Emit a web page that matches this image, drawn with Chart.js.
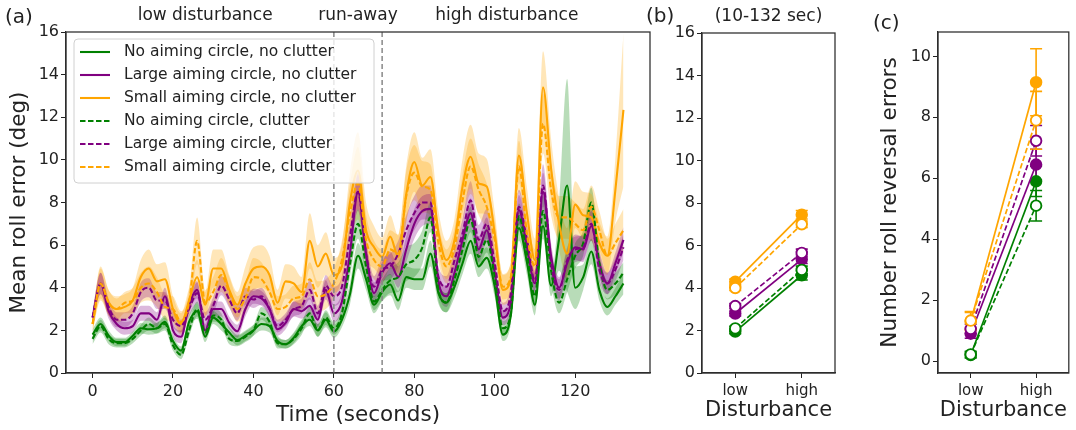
<!DOCTYPE html>
<html>
<head>
<meta charset="utf-8">
<script src="https://cdn.jsdelivr.net/npm/chart.js@4.4.1/dist/chart.umd.min.js"></script>
<style>
  html, body { margin: 0; padding: 0; background: #fff; }
  #wrap { position: relative; width: 1076px; height: 430px; overflow: hidden;
          font-family: "DejaVu Sans", sans-serif; color: #222; }
  .box { position: absolute; top: 0; height: 430px; }
  .tag { position: absolute; font-size: 20px; line-height: 24px; }
</style>
</head>
<body>
<div id="wrap">
  <div class="box" style="left:0;width:660px"><canvas id="timeChart" width="660" height="430"></canvas></div>
  <div class="box" style="left:660px;width:190px"><canvas id="meanChart" width="190" height="430"></canvas></div>
  <div class="box" style="left:850px;width:226px"><canvas id="revChart" width="226" height="430"></canvas></div>
  <div class="tag" style="left:5px;top:4px">(a)</div>
  <div class="tag" style="left:646px;top:3px">(b)</div>
  <div class="tag" style="left:873px;top:10px">(c)</div>
</div>

<script>
// ── PANEL A: TIME SERIES (2 s steps) ──────────────────
const time = [0,2,4,6,8,10,12,14,16,18, 20,22,24,26,28,30,32,34,36,38,
              40,42,44,46,48,50,52,54,56,58, 60,62,64,66,68,70,72,74,76,78,
              80,82,84,86,88,90,92,94,96,98, 100,102,104,106,108,110,112,114,116,118,
              120,122,124,126,128,130,132];

const noAimNoClut = [1.8,2.3,1.75,1.45,1.45,1.75,2.1,2.05,2.1,2.4, 1.5,1.05,2.4,2.9,1.7,2.6,2.3,1.9,1.55,1.75,
  2.0,2.3,2.2,1.5,1.35,1.65,2.2,2.5,2.0,2.5, 1.95,2.5,3.7,5.5,4.4,3.2,3.8,4.15,3.4,4.5,
  4.4,4.4,5.6,3.75,3.3,4.05,5.15,6.2,5.0,5.4, 4.05,1.8,2.7,6.8,5.2,3.2,6.9,4.1,6.3,8.8,
  4.0,4.5,5.7,3.9,3.1,3.6,4.2];
const largeNoClut = [2.6,4.2,2.9,2.3,2.1,2.2,2.8,2.8,2.5,3.6, 2.0,1.7,3.2,3.9,2.0,3.0,3.0,2.35,1.96,3.0,
  3.6,3.5,3.0,2.05,2.35,3.0,2.9,3.15,2.5,3.9, 2.8,3.35,5.6,8.5,5.6,3.75,4.7,5.15,4.5,5.8,
  7.0,7.6,7.7,4.3,3.6,4.7,6.25,7.5,5.8,6.7, 4.7,2.6,3.3,7.65,5.9,4.2,8.5,5.5,4.0,5.15,
  5.9,5.8,6.9,5.15,4.2,5.15,6.25];
const smallNoClut = [2.3,4.2,3.3,3.0,3.1,3.4,4.5,4.9,4.3,4.4, 3.0,2.3,3.4,4.5,3.2,4.9,4.9,3.9,3.2,4.2,
  4.9,5.0,4.6,3.3,4.3,4.2,3.8,6.2,5.0,5.6, 4.6,5.0,8.0,9.5,6.7,5.9,5.45,6.4,5.45,8.4,
  9.9,8.8,9.2,6.6,5.3,6.25,8.75,10.15,8.9,8.75, 6.55,3.9,4.4,10.2,7.5,5.3,13.4,9.6,7.0,5.6,
  7.9,7.4,7.3,6.1,5.5,8.6,12.35];
const noAimClut = [1.6,2.2,1.6,1.4,1.4,1.6,2.0,2.3,2.1,2.3, 1.3,0.85,2.0,3.0,1.9,2.7,2.5,1.6,1.5,1.7,
  2.0,2.8,2.4,1.4,1.35,1.6,2.1,2.8,2.0,2.6, 2.1,2.8,5.1,7.0,5.0,3.35,3.9,4.35,4.5,5.1,
  5.3,5.9,7.3,3.9,3.3,4.4,5.8,7.2,5.45,6.25, 4.5,2.1,2.8,7.35,5.6,3.6,7.6,4.8,3.3,4.4,
  5.5,6.1,8.0,5.15,3.9,4.2,4.7];
const largeClut = [2.6,4.2,3.1,2.5,2.5,2.8,3.8,4.0,3.4,3.4, 2.5,2.2,3.0,3.75,2.5,3.15,4.1,3.45,2.8,3.6,
  3.45,3.6,3.0,2.2,2.5,3.0,3.15,3.9,2.8,4.1, 3.6,4.05,6.4,8.5,5.6,4.05,4.85,5.0,5.6,6.7,
  7.5,8.0,8.0,4.5,4.05,5.3,6.55,8.1,6.25,7.0, 5.15,2.9,3.75,7.8,6.25,4.3,8.8,5.15,3.9,5.3,
  5.8,5.9,7.0,4.85,4.2,4.85,5.9];
const smallClut = [2.3,4.2,3.3,3.0,3.3,3.4,4.0,4.2,3.8,3.1, 3.0,2.4,3.3,6.2,3.3,3.8,4.6,3.8,3.0,3.5,
  4.5,4.4,3.8,3.0,3.1,3.5,3.6,4.4,3.6,3.7, 4.2,5.3,7.5,8.9,6.25,5.3,5.0,5.8,5.6,8.3,
  9.4,8.75,8.6,6.1,5.0,5.9,8.1,9.7,8.6,7.8, 6.25,4.05,4.5,9.7,6.55,5.0,11.7,8.6,7.3,7.3,
  7.0,6.7,7.8,6.7,5.5,6.1,6.7];

// half widths of the shaded bands
const noAimNoClutSe = [.25,.3,.25,.2,.2,.2,.25,.25,.25,.3, .25,.2,.3,.35,.25,.3,.3,.25,.25,.25,
  .25,.3,.3,.25,.2,.25,.3,.3,.3,.35, .3,.35,.5,.6,.5,.4,.45,.5,.45,.5,
  .5,.5,.6,.5,.45,.5,.5,.6,.5,.5, .5,.3,.4,.6,.6,.5,.6,.5,1.5,5.0,
  1.0,.6,.6,.5,.4,.4,.5];
const largeNoClutSe = [.3,.5,.35,.3,.3,.3,.35,.35,.35,.4, .3,.3,.35,.4,.3,.35,.35,.3,.3,.35,
  .35,.35,.35,.3,.3,.35,.35,.4,.35,.45, .4,.45,.6,.8,.6,.5,.5,.55,.5,.6,
  .7,.7,.7,.5,.5,.5,.6,.7,.6,.6, .5,.35,.4,.7,.6,.5,.9,.6,.5,.6,
  .6,.6,.7,.6,.5,.5,.6];
const smallNoClutSe = [.4,.8,.6,.6,.6,.6,.8,.9,.8,.8, .6,.5,.6,.8,.6,.9,.9,.7,.6,.8,
  1.0,1.0,.9,.6,.8,.8,.7,1.3,1.0,1.0, .8,1.0,1.4,1.8,1.3,1.0,.9,1.0,1.0,1.3,
  1.4,1.3,1.3,1.0,.9,1.0,1.3,1.5,1.4,1.3, 1.0,.7,.8,1.3,1.2,1.0,1.7,1.4,1.2,1.2,
  1.1,1.1,1.1,1.0,.9,1.5,3.6];
const noAimClutSe = [.25,.3,.25,.2,.2,.2,.25,.3,.25,.3, .25,.2,.3,.35,.25,.3,.3,.25,.25,.25,
  .25,.3,.3,.25,.2,.25,.3,.3,.3,.35, .3,.4,.6,.7,.6,.4,.5,.6,.7,.8,
  .8,.8,.7,.5,.45,.5,.6,.6,.5,.6, .5,.35,.4,.6,.6,.5,.7,.6,.5,.6,
  .6,.6,.7,.5,.45,.5,.5];
const largeClutSe = [.3,.5,.4,.35,.35,.35,.45,.45,.4,.4, .35,.3,.35,.5,.35,.4,.45,.4,.35,.4,
  .4,.4,.35,.3,.3,.35,.35,.45,.35,.5, .45,.5,.7,.9,.7,.5,.55,.6,.6,.7,
  .8,.8,.8,.5,.5,.55,.7,.9,.7,.7, .6,.4,.45,.8,.7,.5,1.0,.6,.5,.6,
  .6,.6,.8,.6,.5,.55,.6];
const smallClutSe = [.4,.7,.6,.5,.5,.6,.7,.8,.7,.6, .6,.5,.6,1.1,.6,.7,.8,.7,.6,.7,
  .9,.8,.7,.6,.6,.6,.6,.8,.7,.7, .7,.9,1.3,1.7,1.2,.9,.8,.9,.9,1.2,
  1.3,1.2,1.2,.9,.8,.9,1.2,1.3,1.2,1.1, .9,.6,.7,1.2,1.0,.8,1.4,1.2,1.0,1.0,
  1.0,1.0,1.0,.9,.8,.9,1.0];

const timeTicks   = [0, 20, 40, 60, 80, 100, 120];
const rollTicks   = [0, 2, 4, 6, 8, 10, 12, 14, 16];
const phaseLines  = [60, 72];
const phaseNames  = ["low disturbance", "run-away", "high disturbance"];
const phaseCentre = [28, 66, 103];

// ── PANEL B: MEAN ROLL ERROR (10-132 sec) ────────────
const levels = ["low", "high"];
const meanNoAimNoClut = [1.95, 4.6],  meanNoAimNoClutSe = [0.1, 0.22];
const meanLargeNoClut = [2.8, 5.35],  meanLargeNoClutSe = [0.12, 0.2];
const meanSmallNoClut = [4.3, 7.45],  meanSmallNoClutSe = [0.12, 0.2];
const meanNoAimClut   = [2.1, 4.85],  meanNoAimClutSe   = [0.1, 0.18];
const meanLargeClut   = [3.15, 5.65], meanLargeClutSe   = [0.12, 0.18];
const meanSmallClut   = [4.0, 7.0],   meanSmallClutSe   = [0.12, 0.15];

// ── PANEL C: ROLL REVERSAL ERRORS ────────────────────
const revNoAimNoClut = [0.2, 5.9],   revNoAimNoClutSe = [0.1, 0.5];
const revLargeNoClut = [0.9, 6.45],  revLargeNoClutSe = [0.15, 0.5];
const revSmallNoClut = [1.3, 9.15],  revSmallNoClutSe = [0.3, 1.1];
const revNoAimClut   = [0.22, 5.1],  revNoAimClutSe   = [0.1, 0.5];
const revLargeClut   = [1.06, 7.23], revLargeClutSe   = [0.15, 0.5];
const revSmallClut   = [1.33, 7.9],  revSmallClutSe   = [0.3, 0.95];
const revTicks = [0, 2, 4, 6, 8, 10];

// ── STYLE ────────────────────────────────────────────
const GREEN = "#008000", PURPLE = "#800080", ORANGE = "#ffa500", INK = "#222";
const DASH = [5.5, 2.5];
const labels = [
  "No aiming circle, no clutter", "Large aiming circle, no clutter", "Small aiming circle, no clutter",
  "No aiming circle, clutter", "Large aiming circle, clutter", "Small aiming circle, clutter",
];
const colors = [GREEN, PURPLE, ORANGE, GREEN, PURPLE, ORANGE];
const dashes = [[], [], [], DASH, DASH, DASH];

Chart.defaults.font.family = '"DejaVu Sans", sans-serif';
Chart.defaults.color = INK;
Chart.defaults.animation = false;

const fade = (hex, a) => {
  const n = parseInt(hex.slice(1), 16);
  return `rgba(${(n >> 16) & 255},${(n >> 8) & 255},${n & 255},${a})`;
};

function yAxis(min, max, ticks, width, title, pad) {
  return {
    type: "linear", min, max,
    afterFit: s => { s.width = width; },
    afterBuildTicks: s => { s.ticks = ticks.map(v => ({ value: v })); },
    grid: { drawOnChartArea: false, tickLength: 5, color: INK },
    border: { color: INK, width: 1.2 },
    ticks: { padding: 2, font: { size: 16 }, color: INK },
    title: title
      ? { display: true, text: title, font: { size: 21.5 }, color: INK, padding: { top: pad } }
      : { display: false },
  };
}

const framePlugin = {
  id: "frame",
  afterDraw(chart) {
    const { ctx, chartArea: a } = chart;
    ctx.save();
    ctx.strokeStyle = "#333";
    ctx.lineWidth = 1.3;
    ctx.strokeRect(a.left, a.top, a.right - a.left, a.bottom - a.top);
    ctx.restore();
  },
};

// ── CHART A ──────────────────────────────────────────
const means = [noAimNoClut, largeNoClut, smallNoClut, noAimClut, largeClut, smallClut];
const halves = [noAimNoClutSe, largeNoClutSe, smallNoClutSe, noAimClutSe, largeClutSe, smallClutSe];

const timeSets = [];
means.forEach((m, k) => {
  timeSets.push({
    label: labels[k],
    data: time.map((t, i) => ({ x: t, y: m[i] })),
    borderColor: colors[k], borderWidth: 2.1, borderDash: dashes[k],
    pointRadius: 0, fill: false, order: 6 - k, cubicInterpolationMode: "monotone",
  });
});
means.forEach((m, k) => {
  const up = timeSets.length;
  timeSets.push({
    label: "band", data: time.map((t, i) => ({ x: t, y: m[i] + halves[k][i] })),
    borderWidth: 0, borderColor: "transparent", pointRadius: 0,
    backgroundColor: fade(colors[k], 0.28), fill: up + 1, order: 20 + k,
    cubicInterpolationMode: "monotone",
  });
  timeSets.push({
    label: "band", data: time.map((t, i) => ({ x: t, y: m[i] - halves[k][i] })),
    borderWidth: 0, borderColor: "transparent", pointRadius: 0,
    fill: false, order: 20 + k, cubicInterpolationMode: "monotone",
  });
});

const phasePlugin = {
  id: "phases",
  afterDatasetsDraw(chart) {
    const { ctx, chartArea: a, scales: { x } } = chart;
    ctx.save();
    ctx.strokeStyle = "#888";
    ctx.lineWidth = 1.5;
    ctx.setLineDash([5, 3]);
    phaseLines.forEach(t => {
      const px = x.getPixelForValue(t);
      ctx.beginPath(); ctx.moveTo(px, a.top); ctx.lineTo(px, a.bottom); ctx.stroke();
    });
    ctx.setLineDash([]);
    ctx.fillStyle = INK;
    ctx.font = '17px "DejaVu Sans"';
    ctx.textAlign = "center";
    ctx.textBaseline = "middle";
    phaseNames.forEach((n, i) => ctx.fillText(n, x.getPixelForValue(phaseCentre[i]), 16));
    ctx.restore();
  },
};

const legendPlugin = {
  id: "boxLegend",
  afterDraw(chart) {
    const { ctx, chartArea: a } = chart;
    const x0 = a.left + 8, y0 = a.top + 7, w = 300, h = 144;
    ctx.save();
    ctx.beginPath();
    ctx.roundRect(x0, y0, w, h, 4);
    ctx.fillStyle = "rgba(255,255,255,0.8)";
    ctx.fill();
    ctx.strokeStyle = "#d0d0d0";
    ctx.lineWidth = 1;
    ctx.stroke();
    ctx.font = '15.5px "DejaVu Sans"';
    ctx.textBaseline = "middle";
    labels.forEach((lab, k) => {
      const y = y0 + 13 + k * 23;
      ctx.strokeStyle = colors[k];
      ctx.lineWidth = 2.1;
      ctx.setLineDash(dashes[k]);
      ctx.beginPath(); ctx.moveTo(x0 + 6, y); ctx.lineTo(x0 + 36, y); ctx.stroke();
      ctx.setLineDash([]);
      ctx.fillStyle = INK;
      ctx.fillText(lab, x0 + 50, y);
    });
    ctx.restore();
  },
};

new Chart(document.getElementById("timeChart"), {
  type: "line",
  data: { datasets: timeSets },
  options: {
    responsive: false,
    events: [],
    layout: { padding: { top: 32, right: 10, left: 0, bottom: 0 } },
    plugins: { legend: { display: false }, tooltip: { enabled: false } },
    scales: {
      x: {
        type: "linear", min: -6.6, max: 138.6,
        afterFit: s => { s.height = 57; },
        afterBuildTicks: s => { s.ticks = timeTicks.map(v => ({ value: v })); },
        grid: { drawOnChartArea: false, tickLength: 5, color: INK },
        border: { color: INK, width: 1.2 },
        ticks: { padding: 4, font: { size: 16 }, color: INK },
        title: { display: true, text: "Time (seconds)", font: { size: 21.5 }, color: INK, padding: { bottom: 2 } },
      },
      y: yAxis(0, 16, rollTicks, 66, "Mean roll error (deg)", 7),
    },
  },
  plugins: [phasePlugin, legendPlugin, framePlugin],
});

// ── CHARTS B & C ─────────────────────────────────────
const errorBarPlugin = {
  id: "errorBars",
  beforeDatasetsDraw(chart) {
    const { ctx, scales: { y } } = chart;
    ctx.save();
    ctx.lineWidth = 1.6;
    chart.data.datasets.forEach((ds, k) => {
      const meta = chart.getDatasetMeta(k);
      ctx.strokeStyle = ds.borderColor;
      meta.data.forEach((pt, i) => {
        const top = y.getPixelForValue(ds.data[i] + ds.errors[i]);
        const bot = y.getPixelForValue(ds.data[i] - ds.errors[i]);
        ctx.beginPath();
        ctx.moveTo(pt.x, top); ctx.lineTo(pt.x, bot);
        ctx.moveTo(pt.x - 6, top); ctx.lineTo(pt.x + 6, top);
        ctx.moveTo(pt.x - 6, bot); ctx.lineTo(pt.x + 6, bot);
        ctx.stroke();
      });
    });
    ctx.restore();
  },
};

function levelSets(vals, errs) {
  return vals.map((v, k) => ({
    label: labels[k], data: v, errors: errs[k],
    borderColor: colors[k], borderWidth: 1.7, borderDash: dashes[k],
    pointRadius: 5.3, pointBorderWidth: 1.9,
    pointBorderColor: colors[k],
    pointBackgroundColor: k < 3 ? colors[k] : "#fff",
    order: 6 - k,
  }));
}

function levelAxis() {
  return {
    type: "category", labels: levels, offset: true,
    afterFit: s => { s.height = 57; },
    grid: { drawOnChartArea: false, tickLength: 5, color: INK },
    border: { color: INK, width: 1.2 },
    ticks: { padding: 4, font: { size: 15 }, color: INK },
    title: { display: true, text: "Disturbance", font: { size: 21 }, color: INK, padding: { bottom: 7 } },
  };
}

new Chart(document.getElementById("meanChart"), {
  type: "line",
  data: {
    labels: levels,
    datasets: levelSets(
      [meanNoAimNoClut, meanLargeNoClut, meanSmallNoClut, meanNoAimClut, meanLargeClut, meanSmallClut],
      [meanNoAimNoClutSe, meanLargeNoClutSe, meanSmallNoClutSe, meanNoAimClutSe, meanLargeClutSe, meanSmallClutSe]),
  },
  options: {
    responsive: false,
    events: [],
    layout: { padding: { top: 0, right: 15, left: 0, bottom: 0 } },
    plugins: {
      legend: { display: false }, tooltip: { enabled: false },
      title: { display: true, fullSize: false, text: "(10-132 sec)", color: INK,
               font: { size: 17, weight: "normal" }, padding: { top: 6, bottom: 6.6 } },
    },
    scales: { x: levelAxis(), y: yAxis(0, 16, rollTicks, 42, null, 0) },
  },
  plugins: [errorBarPlugin, framePlugin],
});

new Chart(document.getElementById("revChart"), {
  type: "line",
  data: {
    labels: levels,
    datasets: levelSets(
      [revNoAimNoClut, revLargeNoClut, revSmallNoClut, revNoAimClut, revLargeClut, revSmallClut],
      [revNoAimNoClutSe, revLargeNoClutSe, revSmallNoClutSe, revNoAimClutSe, revLargeClutSe, revSmallClutSe]),
  },
  options: {
    responsive: false,
    events: [],
    layout: { padding: { top: 32, right: 4, left: 0, bottom: 0 } },
    plugins: { legend: { display: false }, tooltip: { enabled: false } },
    scales: { x: levelAxis(), y: yAxis(-0.39, 10.8, revTicks, 88, "Number roll reversal errors", 28) },
  },
  plugins: [errorBarPlugin, framePlugin],
});
</script>
</body>
</html>
